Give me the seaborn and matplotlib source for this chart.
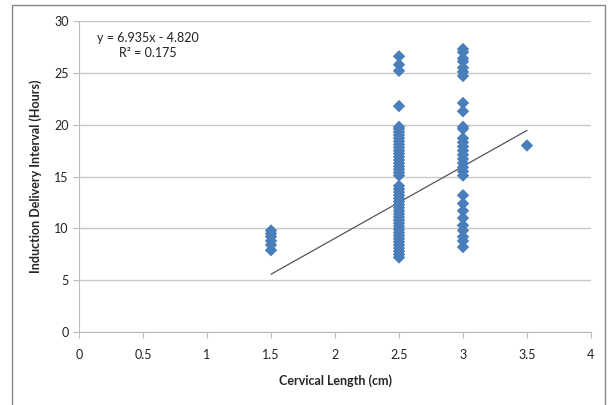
import numpy as np
import pandas as pd
import seaborn as sns
import matplotlib.pyplot as plt
from matplotlib.patches import Rectangle

# cervical length groups and induction-delivery interval values
len_15 = [7.9, 8.4, 8.8, 9.2, 9.5, 9.8]
len_25 = [7.2, 7.5, 7.8, 8.1, 8.4, 8.7, 9.0, 9.3, 9.6, 9.9, 10.2, 10.5, 10.8,
          11.1, 11.4, 11.7, 12.0, 12.3, 12.6, 12.9, 13.2, 13.5, 13.8, 14.1,
          15.1, 15.4, 15.7, 16.0, 16.3, 16.6, 16.9, 17.2, 17.5, 17.8, 18.1,
          18.4, 18.7, 19.0, 19.3, 19.6, 19.8, 21.8, 25.2, 25.8, 26.6]
len_30 = [8.2, 8.8, 9.2, 9.8, 10.3, 11.0, 11.7, 12.4, 13.2,
          15.1, 15.5, 15.9, 16.3, 16.7, 17.1, 17.5, 17.9, 18.3, 18.7,
          19.6, 19.8, 21.3, 22.1, 24.7, 25.1, 25.5, 26.1, 26.4, 27.0, 27.3]
len_35 = [18.0]

slope, intercept, r2 = 6.935, -4.820, 0.175
trend_x = [1.5, 3.5]

xs = [1.5] * len(len_15) + [2.5] * len(len_25) + [3.0] * len(len_30) + [3.5] * len(len_35)
ys = len_15 + len_25 + len_30 + len_35
df = pd.DataFrame({"length": xs, "interval": ys})

sns.set_style("white")
plt.rcParams['font.family'] = ['Lato', 'DejaVu Sans']

fig = plt.figure(figsize=(6.08, 4.05), dpi=100)
ax = fig.add_axes([0.130, 0.180, 0.842, 0.768])

# outer chart frame
fig.patches.append(Rectangle((12 / 608, -0.05), 593 / 608, 1.05 - 5 / 405,
                             transform=fig.transFigure, fill=False,
                             edgecolor="#888888", linewidth=1.0))

sns.scatterplot(data=df, x="length", y="interval", marker="D", s=40,
                color="#4A7EBB", edgecolor="none", ax=ax, zorder=3)

tx = np.array(trend_x)
sns.lineplot(x=tx, y=slope * tx + intercept, color="#555555", linewidth=0.9, ax=ax, zorder=2)

ax.set_xlim(0, 4)
ax.set_ylim(0, 30)
ax.set_xticks(np.arange(0, 4.01, 0.5))
ax.set_xticklabels(["0", "0.5", "1", "1.5", "2", "2.5", "3", "3.5", "4"])
ax.set_yticks(np.arange(0, 31, 5))
ax.yaxis.grid(True, color="#c8c8c8", linewidth=1)
ax.xaxis.grid(False)
ax.set_axisbelow(True)
for side in ["top", "right"]:
    ax.spines[side].set_visible(False)
for side in ["left", "bottom"]:
    ax.spines[side].set_color("#bbbbbb")
ax.tick_params(axis="both", length=4, color="#bbbbbb", labelsize=9, labelcolor="#222222",
               direction="out", bottom=True, left=True)
ax.tick_params(axis="x", pad=8)

ax.set_xlabel("Cervical Length (cm)", fontsize=9, fontweight="bold", labelpad=10)
ax.set_ylabel("Induction Delivery Interval (Hours)", fontsize=9, fontweight="bold", labelpad=9)

ax.text(0.14, 28.4, f"y = {slope:.3f}x - {abs(intercept):.3f}", fontsize=9,
        color="#222222", va="center")
ax.text(0.31, 26.9, f"R² = {r2:.3f}", fontsize=9, color="#222222", va="center")

fig.savefig("out.png", dpi=100)
